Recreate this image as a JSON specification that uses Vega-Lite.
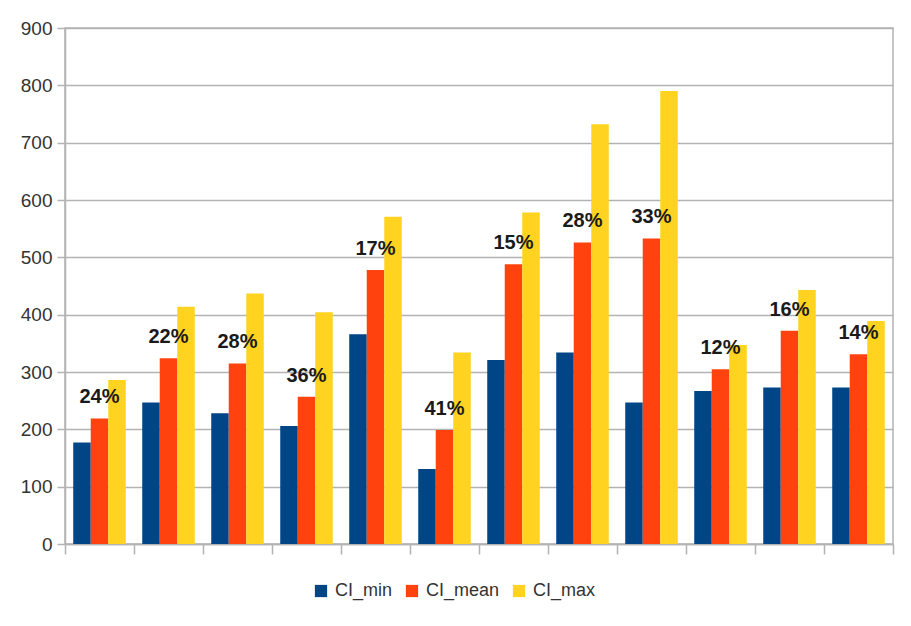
{
  "$schema": "https://vega.github.io/schema/vega-lite/v6.json",
  "width": 828,
  "height": 516,
  "autosize": "none",
  "padding": {"left": 65, "top": 28, "right": 18, "bottom": 82},
  "background": "white",
  "config": {
    "view": {"stroke": "#b3b3b3", "strokeWidth": 1.5},
    "font": "Liberation Sans, Arial, sans-serif"
  },
  "data": {
    "values": [
      {"g": 1, "series": "CI_min", "value": 177, "label": "24%"},
      {"g": 1, "series": "CI_mean", "value": 219, "label": "24%"},
      {"g": 1, "series": "CI_max", "value": 286, "label": "24%"},
      {"g": 2, "series": "CI_min", "value": 247, "label": "22%"},
      {"g": 2, "series": "CI_mean", "value": 324, "label": "22%"},
      {"g": 2, "series": "CI_max", "value": 414, "label": "22%"},
      {"g": 3, "series": "CI_min", "value": 228, "label": "28%"},
      {"g": 3, "series": "CI_mean", "value": 315, "label": "28%"},
      {"g": 3, "series": "CI_max", "value": 437, "label": "28%"},
      {"g": 4, "series": "CI_min", "value": 206, "label": "36%"},
      {"g": 4, "series": "CI_mean", "value": 257, "label": "36%"},
      {"g": 4, "series": "CI_max", "value": 404, "label": "36%"},
      {"g": 5, "series": "CI_min", "value": 366, "label": "17%"},
      {"g": 5, "series": "CI_mean", "value": 478, "label": "17%"},
      {"g": 5, "series": "CI_max", "value": 571, "label": "17%"},
      {"g": 6, "series": "CI_min", "value": 131, "label": "41%"},
      {"g": 6, "series": "CI_mean", "value": 199, "label": "41%"},
      {"g": 6, "series": "CI_max", "value": 334, "label": "41%"},
      {"g": 7, "series": "CI_min", "value": 321, "label": "15%"},
      {"g": 7, "series": "CI_mean", "value": 488, "label": "15%"},
      {"g": 7, "series": "CI_max", "value": 578, "label": "15%"},
      {"g": 8, "series": "CI_min", "value": 334, "label": "28%"},
      {"g": 8, "series": "CI_mean", "value": 526, "label": "28%"},
      {"g": 8, "series": "CI_max", "value": 732, "label": "28%"},
      {"g": 9, "series": "CI_min", "value": 247, "label": "33%"},
      {"g": 9, "series": "CI_mean", "value": 533, "label": "33%"},
      {"g": 9, "series": "CI_max", "value": 790, "label": "33%"},
      {"g": 10, "series": "CI_min", "value": 267, "label": "12%"},
      {"g": 10, "series": "CI_mean", "value": 305, "label": "12%"},
      {"g": 10, "series": "CI_max", "value": 347, "label": "12%"},
      {"g": 11, "series": "CI_min", "value": 273, "label": "16%"},
      {"g": 11, "series": "CI_mean", "value": 372, "label": "16%"},
      {"g": 11, "series": "CI_max", "value": 443, "label": "16%"},
      {"g": 12, "series": "CI_min", "value": 273, "label": "14%"},
      {"g": 12, "series": "CI_mean", "value": 331, "label": "14%"},
      {"g": 12, "series": "CI_max", "value": 389, "label": "14%"}
    ]
  },
  "encoding": {
    "x": {
      "field": "g",
      "type": "ordinal",
      "scale": {"paddingInner": 0, "paddingOuter": 0},
      "axis": {
        "title": null,
        "labels": false,
        "tickBand": "extent",
        "tickSize": 10,
        "tickColor": "#b3b3b3",
        "tickWidth": 1.5,
        "domainColor": "#b3b3b3",
        "domainWidth": 1.5,
        "grid": false
      }
    },
    "xOffset": {
      "field": "series",
      "type": "nominal",
      "scale": {"domain": ["CI_min", "CI_mean", "CI_max"], "paddingOuter": 0.47, "paddingInner": 0}
    },
    "y": {
      "field": "value",
      "type": "quantitative",
      "scale": {"domain": [0, 900]},
      "axis": {
        "title": null,
        "values": [0, 100, 200, 300, 400, 500, 600, 700, 800, 900],
        "labelFontSize": 19,
        "labelColor": "#333333",
        "labelPadding": 5,
        "tickSize": 8,
        "tickColor": "#b3b3b3",
        "tickWidth": 1.5,
        "gridColor": "#b3b3b3",
        "gridWidth": 1.5,
        "domainColor": "#b3b3b3",
        "domainWidth": 1.5
      }
    }
  },
  "layer": [
    {
      "mark": {"type": "bar"},
      "encoding": {
        "color": {
          "field": "series",
          "type": "nominal",
          "scale": {"domain": ["CI_min", "CI_mean", "CI_max"], "range": ["#004586", "#ff420e", "#ffd320"]},
          "legend": {
            "title": null,
            "orient": "none",
            "direction": "horizontal",
            "legendX": 247,
            "legendY": 554,
            "symbolType": "square",
            "symbolSize": 150,
            "symbolStrokeWidth": 0,
            "labelFontSize": 18,
            "labelColor": "#333333",
            "labelOffset": 5,
            "columnPadding": 10
          }
        }
      }
    },
    {
      "transform": [{"filter": "datum.series === 'CI_mean'"}],
      "mark": {"type": "text", "baseline": "middle", "align": "center", "dy": -21, "fontSize": 20, "fontWeight": "bold", "color": "#1a1a1a"},
      "encoding": {
        "text": {"field": "label"}
      }
    }
  ]
}
